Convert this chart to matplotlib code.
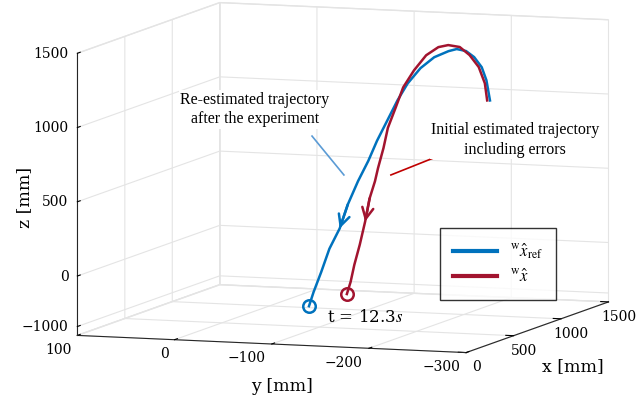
import matplotlib
matplotlib.use('Agg')
import matplotlib.pyplot as plt
from matplotlib.lines import Line2D
from mpl_toolkits.mplot3d import proj3d

# Re-estimated trajectory (blue), from release point to t = 12.3 s
ref_x = [1306, 1289, 1260, 1221, 1176, 1119, 1074, 995, 922, 848, 792,
         735, 679, 628, 571, 515, 470, 413, 368, 328, 300]
ref_y = [-197, -195, -193, -189, -185, -181, -177, -170, -163, -157, -152,
         -147, -142, -138, -133, -128, -124, -119, -115, -111, -109]
ref_z = [971, 1110, 1204, 1280, 1330, 1355, 1350, 1325, 1266, 1178, 1075,
         950, 826, 701, 576, 431, 278, 153, 6, -122, -211]

# Initial estimated trajectory with errors (red)
est_x = [1307, 1293, 1249, 1183, 1110, 1030, 957, 869, 782, 709, 650,
         599, 563, 526, 504, 468, 431, 395, 358, 329, 300]
est_y = [-194, -193, -191, -188, -185, -181, -178, -174, -170, -166, -164,
         -161, -160, -158, -157, -155, -154, -152, -150, -149, -148]
est_z = [970, 1088, 1207, 1302, 1372, 1402, 1404, 1368, 1285, 1186, 1062,
         937, 809, 682, 598, 490, 342, 194, 66, -43, -118]

x_ticks = [0, 500, 1000, 1500]
y_ticks = [100, 0, -100, -200, -300]
z_ticks = [-340, 0, 500, 1000, 1500]
z_tick_labels = ['\u22121000', '0', '500', '1000', '1500']

blue = '#0072BD'
red = '#A2142F'

plt.rcParams['font.family'] = 'DejaVu Serif'
plt.rcParams['mathtext.fontset'] = 'stix'
plt.rcParams['grid.color'] = '#e4e4e4'
plt.rcParams['grid.linewidth'] = 0.8

fig = plt.figure(figsize=(6.44, 4.05), dpi=100)
ax = fig.add_axes([0.024, 0.048, 1.0, 1.0], projection='3d', proj_type='ortho')
ax.view_init(elev=7.2, azim=-160.6)
ax.set_box_aspect((1.04, 1.0, 0.69), zoom=1.58)

ax.plot(ref_x, ref_y, ref_z, color=blue, lw=1.8, label=r'${}^{\mathrm{w}}\hat{x}_{\mathrm{ref}}$')
ax.plot(est_x, est_y, est_z, color=red, lw=1.8, label=r'${}^{\mathrm{w}}\hat{x}$')
ax.plot([ref_x[-1]], [ref_y[-1]], [ref_z[-1]], 'o', ms=9, mfc='none', mec=blue, mew=1.8)
ax.plot([est_x[-1]], [est_y[-1]], [est_z[-1]], 'o', ms=9, mfc='none', mec=red, mew=1.8)

ax.set_xlim(0, 1500)
ax.set_ylim(-300, 100)
ax.set_zlim(-400, 1500)
ax.set_xticks(x_ticks)
ax.set_yticks(y_ticks)
ax.set_zticks(z_ticks)
ax.set_zticklabels(z_tick_labels)
ax.tick_params(labelsize=10)
ax.tick_params(axis='x', pad=-4)
ax.tick_params(axis='y', pad=-1.5)
ax.tick_params(axis='z', pad=-5.5)
plt.setp(ax.get_zticklabels(), ha='right', va='center')
plt.setp(ax.get_yticklabels(), ha='right', va='center')

for axis in (ax.xaxis, ax.yaxis, ax.zaxis):
    axis.set_pane_color((1, 1, 1, 1))
    axis.pane.set_edgecolor('#e4e4e4')
    axis.line.set_color('#262626')
    axis.line.set_linewidth(0.8)
    axis.set_rotate_label(False)
    axis._axinfo['tick']['inward_factor'] = 0.0
    axis._axinfo['tick']['outward_factor'] = 0.25

ax.set_zlabel('z [mm]', fontsize=12.5, rotation=90, labelpad=-6)
fig.text(0.438, 0.045, 'y [mm]', ha='center', va='center', fontsize=12.5)
fig.text(0.89, 0.096, 'x [mm]', ha='center', va='center', fontsize=12.5)

# direction arrows on the trajectories
fig.canvas.draw()
M = ax.get_proj()
for xs, ys, zs, k, c in [(ref_x, ref_y, ref_z, 15, blue), (est_x, est_y, est_z, 15, red)]:
    x1, y1, _ = proj3d.proj_transform(xs[k], ys[k], zs[k], M)
    x2, y2, _ = proj3d.proj_transform(xs[k + 1], ys[k + 1], zs[k + 1], M)
    ax.annotate('', xy=(x2, y2), xytext=(x1, y1),
                arrowprops=dict(arrowstyle='->,head_length=0.8,head_width=0.4', color=c, lw=1.8,
                                shrinkA=0, shrinkB=0))

fig.text(0.396, 0.73, 'Re-estimated trajectory\nafter the experiment', ha='center', va='center',
         family='Liberation Serif', fontsize=11.5, linespacing=1.3,
         bbox=dict(facecolor='white', edgecolor='none', pad=1))
fig.text(0.80, 0.655, 'Initial estimated trajectory\nincluding errors', ha='center', va='center',
         family='Liberation Serif', fontsize=11.5, linespacing=1.3,
         bbox=dict(facecolor='white', edgecolor='none', pad=1))
fig.add_artist(Line2D([0.4845, 0.534], [0.664, 0.568], color='#5B9BD5', lw=1.2))
fig.add_artist(Line2D([0.689, 0.607], [0.620, 0.568], color='#C00000', lw=1.2))
fig.text(0.567, 0.215, 't = 12.3$s$', ha='center', va='center', fontsize=12)

leg = fig.legend(loc='upper left', bbox_to_anchor=(0.683, 0.437), borderaxespad=0, fontsize=12,
                 frameon=True, fancybox=False, edgecolor='black', handlelength=2.6, borderpad=0.8)
leg.get_frame().set_linewidth(1.0)
for h in leg.legend_handles:
    h.set_linewidth(3)

fig.savefig('out.png', dpi=100)
